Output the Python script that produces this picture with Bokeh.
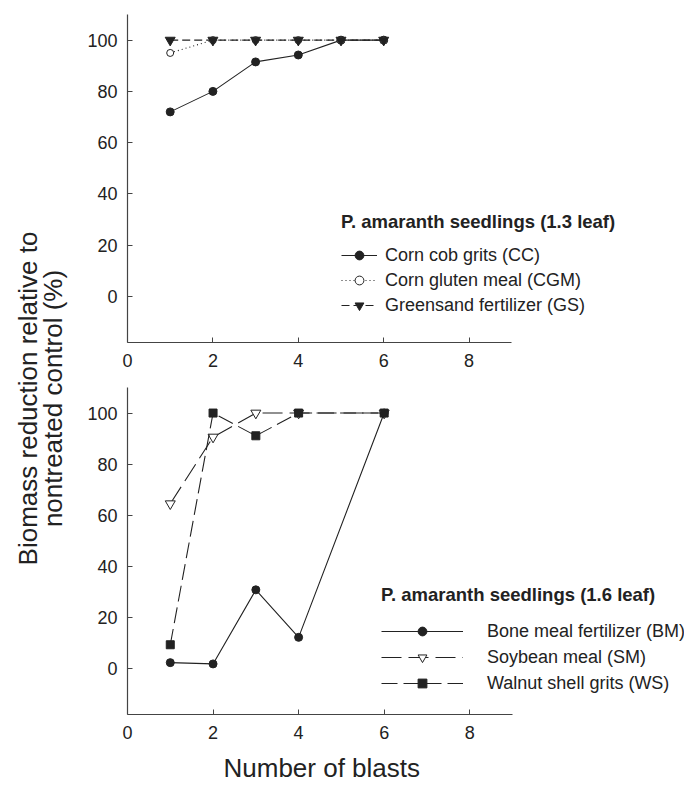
import math
from bokeh.plotting import figure
from bokeh.models import Range1d, Legend, LegendItem, Label, FixedTicker, Title
from bokeh.layouts import row, column
from bokeh.embed import file_html
from bokeh.resources import INLINE

# ---- data ----
blasts_top = [1, 2, 3, 4, 5, 6]
cc = [72.0, 80.0, 91.5, 94.2, 100.0, 100.0]
cgm = [95.0, 100.0, 100.0, 100.0, 100.0, 100.0]
gs = [100.0, 100.0, 100.0, 100.0, 100.0, 100.0]

blasts_bottom = [1, 2, 3, 4, 6]
bm = [2.3, 1.8, 30.8, 12.2, 100.0]
sm = [64.5, 90.6, 100.0, 100.0, 100.0]
ws = [9.3, 100.0, 91.1, 100.0, 100.0]

x_ticks = [0, 2, 4, 6, 8]
y_ticks = [0, 20, 40, 60, 80, 100]

title_top = "P. amaranth seedlings (1.3 leaf)"
title_bottom = "P. amaranth seedlings (1.6 leaf)"
labels_top = ["Corn cob grits (CC)", "Corn gluten meal (CGM)", "Greensand fertilizer (GS)"]
labels_bottom = ["Bone meal fertilizer (BM)", "Soybean meal (SM)", "Walnut shell grits (WS)"]
x_label = "Number of blasts"
y_label_1 = "Biomass reduction relative to"
y_label_2 = "nontreated control (%)"

FONT = "Liberation Sans"
INK = "#222222"
AX = "#444444"
PX_PER_UNIT = 385 / 9.0


def make_fig(h, bl, bt, bb):
    frame_w = 614 - bl
    p = figure(width=614, height=h,
               min_border_left=bl, min_border_right=0,
               min_border_top=bt, min_border_bottom=bb,
               x_range=Range1d(0, frame_w / PX_PER_UNIT), y_range=Range1d(-18, 110),
               output_backend="svg", toolbar_location=None)
    p.xgrid.visible = False
    p.ygrid.visible = False
    p.outline_line_color = None
    p.xaxis.ticker = FixedTicker(ticks=x_ticks)
    p.yaxis.ticker = FixedTicker(ticks=y_ticks)
    p.xaxis.bounds = (0, 9)
    for ax in (p.xaxis[0], p.yaxis[0]):
        ax.axis_line_color = AX
        ax.axis_line_width = 1.2
        ax.major_tick_line_color = AX
        ax.major_tick_in = 5
        ax.major_tick_out = 0
        ax.minor_tick_line_color = None
        ax.major_label_text_font = FONT
        ax.major_label_text_font_size = "18px"
        ax.major_label_text_color = INK
    p.xaxis.major_label_standoff = 11
    p.yaxis.major_label_standoff = 10
    return p


def add_legend(p, items, title, loc, gw, standoff, tstand, spacing):
    lg = Legend(items=items, location=loc, title=title,
                title_text_font=FONT, title_text_font_size="18.5px",
                title_text_font_style="bold", title_text_color=INK,
                title_standoff=tstand,
                label_text_font=FONT, label_text_font_size="18px",
                label_text_color=INK,
                glyph_width=gw, glyph_height=22, label_height=22,
                label_standoff=standoff, spacing=spacing,
                padding=0, margin=0, border_line_color=None,
                background_fill_alpha=0)
    p.add_layout(lg)


# ---- top panel ----
p1 = make_fig(380, 56, 14, 38)
l1 = p1.line(blasts_top, cc, line_color=INK, line_width=1.1)
m1 = p1.scatter(blasts_top, cc, marker="circle", size=8, fill_color=INK, line_color=INK)
l2 = p1.line(blasts_top, cgm, line_color=INK, line_width=1.1, line_dash="1 3")
m2 = p1.scatter(blasts_top, cgm, marker="circle", size=7, fill_color="white", line_color=INK)
l3 = p1.line(blasts_top, gs, line_color=INK, line_width=1.1, line_dash="8 4")
m3 = p1.scatter(blasts_top, gs, marker="inverted_triangle", size=10, fill_color=INK, line_color=INK)
add_legend(p1, [LegendItem(label=labels_top[0], renderers=[l1, m1]),
                LegendItem(label=labels_top[1], renderers=[l2, m2]),
                LegendItem(label=labels_top[2], renderers=[l3, m3])],
           title_top, (214, 26), 36, 8, 11, 3)

# ---- bottom panel ----
p2 = make_fig(412, 57, 7, 77)
k1 = p2.line(blasts_bottom, bm, line_color=INK, line_width=1.1)
n1 = p2.scatter(blasts_bottom, bm, marker="circle", size=8, fill_color=INK, line_color=INK)
k2 = p2.line(blasts_bottom, sm, line_color=INK, line_width=1.1, line_dash="20 7")
n2 = p2.scatter(blasts_bottom, sm, marker="inverted_triangle", size=10, fill_color="white", line_color=INK)
k3 = p2.line(blasts_bottom, ws, line_color=INK, line_width=1.1, line_dash="16 6")
n3 = p2.scatter(blasts_bottom, ws, marker="square", size=8, fill_color=INK, line_color=INK)
add_legend(p2, [LegendItem(label=labels_bottom[0], renderers=[k1, n1]),
                LegendItem(label=labels_bottom[1], renderers=[k2, n2]),
                LegendItem(label=labels_bottom[2], renderers=[k3, n3])],
           title_bottom, (254, 20), 82, 24, 14, 4)
# x-axis title, left-aligned with an offset so that it is centred under the 0..9 axis
p2.add_layout(Title(text=x_label, align="left", offset=96, standoff=19,
                    text_font=FONT, text_font_size="26px", text_font_style="normal",
                    text_color=INK), "below")

# ---- shared y label ----
lab = figure(width=70, height=792, x_range=Range1d(0, 70), y_range=Range1d(0, 792),
             x_axis_type=None, y_axis_type=None, min_border=0,
             output_backend="svg", toolbar_location=None)
lab.outline_line_color = None
lab.xgrid.visible = False
lab.ygrid.visible = False
for txt, xx in ((y_label_1, 27), (y_label_2, 52)):
    lab.add_layout(Label(x=xx, y=394, x_units="screen", y_units="screen", text=txt,
                         angle=math.pi / 2, text_align="center", text_baseline="middle",
                         text_font=FONT, text_font_size="26px", text_color=INK))

layout = row(lab, column(p1, p2))
open("out.html", "w").write(file_html(layout, INLINE))
